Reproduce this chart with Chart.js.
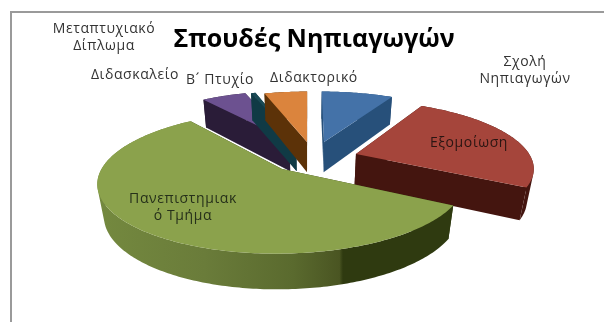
<!DOCTYPE html>
<html>
<head>
<meta charset="utf-8">
<style>
  html, body { margin: 0; background: #fff; overflow: hidden; }
  #wrap { position: relative; width: 604px; height: 322px; }
  #frame { position: absolute; left: 10px; top: 11px; right: 0; bottom: 0; border-top: 2px solid #9a9a9a; border-left: 2px solid #9a9a9a; }
  canvas { position: absolute; left: 0; top: 0; }
</style>
</head>
<body>
<div id="wrap">
  <div id="frame"></div>
  <canvas id="chart" width="604" height="322"></canvas>
</div>
<script src="https://cdn.jsdelivr.net/npm/chart.js@4/dist/chart.umd.min.js"></script>
<script>
const categories = ['Σχολή Νηπιαγωγών', 'Εξομοίωση', 'Πανεπιστημιακό Τμήμα', 'Μεταπτυχιακό Δίπλωμα', 'Διδασκαλείο', 'Β´ Πτυχίο', 'Διδακτορικό'];
const shares = [8, 25, 56.7, 5, 0.5, 4.8, 0];

const topColors = ['#4472a8', '#a5453b', '#8ba24c', '#6c5190', '#1a4a55', '#db843d', '#4bacc6'];
const wallColors = ['#27507a', '#44150f', '#2f3a10', '#2a1c38', '#103a45', '#5c3208', '#2a6a7c'];

// how far each slice is pulled out of the pie, in disc radii
const pullOut = [[0.096, -0.223], [0.277, -0.027], [-0.144, 0.2], [-0.11, -0.24], [-0.07, -0.24], [-0.006, -0.223], [0, 0]];

// wrapped label text and where it sits
const labelLines = [['Σχολή', 'Νηπιαγωγών'], ['Εξομοίωση'], ['Πανεπιστημιακ', 'ό Τμήμα'], ['Μεταπτυχιακό', 'Δίπλωμα'], ['Διδασκαλείο'], ['Β´ Πτυχίο'], ['Διδακτορικό']];
const labelSpots = [[525, 62], [469, 143], [183, 199], [104, 29], [135, 75], [220, 80], [314, 78]];
const labelColors = ['#333', '#2a1512', '#26301a', '#333', '#333', '#333', '#333'];

// camera for the tilted disc
const view = { cx: 308, cy: 155.7, a: 174, b: 64, tilt: 0.18, depth: 32, shrink: 0.03 };

function project(u, v, z) {
  const w = 1 - view.tilt * v + view.shrink * z;
  return [view.cx + view.a * u / w, view.cy + (view.b * v + view.depth * z) / w];
}

function tracePoly(ctx, pts) {
  pts.forEach((p, i) => i ? ctx.lineTo(p[0], p[1]) : ctx.moveTo(p[0], p[1]));
  ctx.closePath();
}

function fillPoly(ctx, pts, color) {
  ctx.beginPath();
  tracePoly(ctx, pts);
  ctx.fillStyle = color;
  ctx.fill();
}

function signedArea(pts) {
  let sum = 0;
  pts.forEach((p, i) => {
    const q = pts[(i + 1) % pts.length];
    sum += p[0] * q[1] - q[0] * p[1];
  });
  return sum;
}

// rim as one path of same-facing quads, so its fold at the silhouette stays filled
function fillRim(ctx, edge, color) {
  ctx.beginPath();
  for (let k = 0; k < edge.length - 1; k++) {
    const a = edge[k];
    const b = edge[k + 1];
    const quad = [project(a[0], a[1], 0), project(b[0], b[1], 0), project(b[0], b[1], 1), project(a[0], a[1], 1)];
    tracePoly(ctx, signedArea(quad) < 0 ? quad.reverse() : quad);
  }
  ctx.fillStyle = color;
  ctx.fill();
}

// the big slice has a shaded rim, dark on the right
function greenRim(ctx) {
  const g = ctx.createLinearGradient(98, 0, 453, 0);
  g.addColorStop(0, '#74893f');
  g.addColorStop(0.3, '#6a7c3a');
  g.addColorStop(0.55, '#5a6a2e');
  g.addColorStop(0.68, '#4a5522');
  g.addColorStop(0.69, '#2f3a10');
  g.addColorStop(1, '#2f3a10');
  return g;
}

const pie3d = {
  id: 'pie3d',
  beforeDatasetsDraw(chart) {
    const ctx = chart.ctx;
    const arcs = chart.getDatasetMeta(0).data;
    const order = arcs.map((_, i) => i)
      .filter(i => shares[i] > 0)
      .sort((m, n) => pullOut[m][1] - pullOut[n][1]);

    order.forEach(i => {
      const arc = arcs[i];
      const [ox, oy] = pullOut[i];
      const steps = Math.max(2, Math.ceil((arc.endAngle - arc.startAngle) * 60));
      const edge = [];
      for (let s = 0; s <= steps; s++) {
        const t = arc.startAngle + (arc.endAngle - arc.startAngle) * s / steps;
        edge.push([ox + Math.cos(t), oy + Math.sin(t)]);
      }
      const first = edge[0];
      const last = edge[edge.length - 1];
      const apex = [ox, oy];
      const radial = p => [project(apex[0], apex[1], 0), project(p[0], p[1], 0), project(p[0], p[1], 1), project(apex[0], apex[1], 1)];
      const midEdge = edge[Math.floor(edge.length / 2)];

      // side walls, far ones first
      const walls = [
        { draw: () => fillPoly(ctx, radial(first), wallColors[i]), far: (apex[1] + first[1]) / 2 },
        { draw: () => fillPoly(ctx, radial(last), wallColors[i]), far: (apex[1] + last[1]) / 2 },
        { draw: () => fillRim(ctx, edge, i === 2 ? greenRim(ctx) : wallColors[i]), far: midEdge[1] }
      ];
      walls.sort((m, n) => m.far - n.far);
      walls.forEach(w => w.draw());

      fillPoly(ctx, [apex].concat(edge).map(p => project(p[0], p[1], 0)), arc.options.backgroundColor);
    });
    return false;
  },
  afterDraw(chart) {
    const ctx = chart.ctx;
    ctx.save();
    ctx.font = '14px "Open Sans"';
    ctx.letterSpacing = '0.6px';
    ctx.textAlign = 'center';
    ctx.textBaseline = 'middle';
    labelLines.forEach((lines, i) => {
      ctx.fillStyle = labelColors[i];
      lines.forEach((line, k) => ctx.fillText(line, labelSpots[i][0], labelSpots[i][1] + k * 17));
    });
    ctx.restore();
  }
};

new Chart(document.getElementById('chart'), {
  type: 'pie',
  data: {
    labels: categories,
    datasets: [{ data: shares, backgroundColor: topColors, borderWidth: 0 }]
  },
  options: {
    responsive: false,
    animation: false,
    layout: { padding: { left: 24 } },
    plugins: {
      legend: { display: false },
      tooltip: { enabled: false },
      title: {
        display: true,
        text: 'Σπουδές Νηπιαγωγών',
        color: '#000',
        font: { family: '"Open Sans"', size: 25, weight: 'bold' },
        padding: { top: 25, bottom: 4 }
      }
    }
  },
  plugins: [pie3d]
});
</script>
</body>
</html>
